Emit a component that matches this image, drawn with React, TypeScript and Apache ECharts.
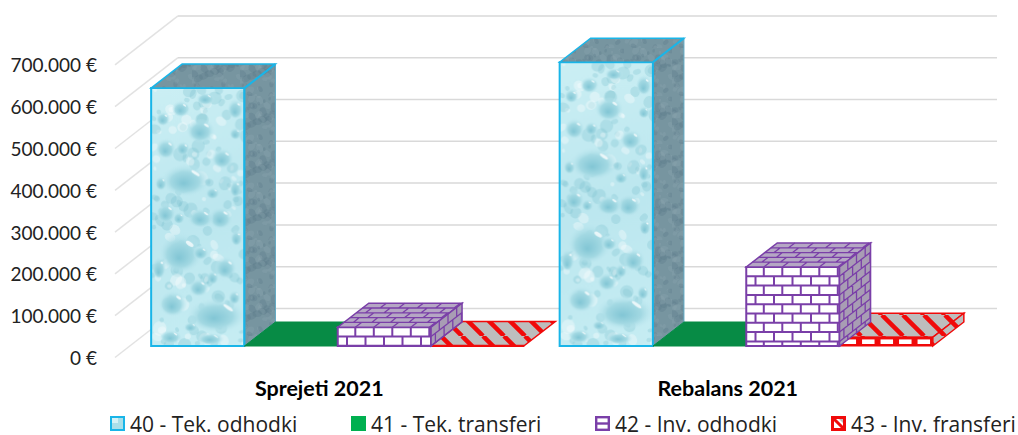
import React, { useEffect, useRef } from "react";
import * as echarts from "echarts";

const categories = ["Sprejeti 2021", "Rebalans 2021"];
const seriesNames = ["40 - Tek. odhodki", "41 - Tek. transferi", "42 - Inv. odhodki", "43 - Inv. fransferi"];
const tekOdhodki = [617000, 679000];
const tekTransferi = [0, 0];
const invOdhodki = [45000, 189000];
const invTransferi = [1000, 21000];
const tickValues = [0, 100000, 200000, 300000, 400000, 500000, 600000, 700000];
const legendLefts = [110, 351, 595, 831];

const DX = 31, DY = -24, BAR_W = 93.3, FRONT_DX = 18.5, FRONT_DY = -11.5;
const WALL_DX = 63, WALL_DY = -49, WALL_RIGHT = 997;
const CYAN = "#19b5e8", PURPLE = "#7a3fa8", RED = "#f00a0a";

type P = number[];
const mk = (w: number, h: number) => {
  const c = document.createElement("canvas");
  c.width = w; c.height = h;
  return [c, c.getContext("2d")!] as const;
};

const bigDrops = [
  [50,42,14,12],[35,92,24,16],[30,165,22,20],[66,228,29,17],[22,216,14,13],[70,130,12,11],[15,60,10,10],
  [72,70,11,10],[50,130,13,10],[75,180,11,11],[15,125,10,10],[48,200,10,9],[20,250,11,7],[60,252,13,6],[85,20,8,10],
  [30,20,9,8],[55,10,9,6],[8,180,7,11],[85,100,6,9],[50,165,8,7],[86,150,6,8],[10,95,6,7],[40,240,7,5],
  [62,105,7,6],[32,60,7,7],[85,45,6,6],[12,30,7,7],[62,190,6,7],[84,210,6,7],[28,130,6,6],
];

function waterTexture(w: number, h: number) {
  const [c, g] = mk(w, h);
  const bg = g.createLinearGradient(0, 0, w, h);
  bg.addColorStop(0, "#cbeff4"); bg.addColorStop(0.5, "#bce7ef"); bg.addColorStop(1, "#c6edf3");
  g.fillStyle = bg; g.fillRect(0, 0, w, h);
  // fine mottling across the surface
  let seed = 12345;
  const next = () => (seed = (seed * 1103 + 12347) % 65536) / 65536;
  for (let i = 0; i < 170; i++) {
    const x = next() * w, y = next() * h, r = 2 + next() * 5;
    g.fillStyle = i % 3 === 0 ? "rgba(255,255,255,0.35)" : "rgba(120,190,205,0.28)";
    g.beginPath(); g.ellipse(x, y, r, r * (0.6 + next() * 0.6), next() * 3, 0, Math.PI * 2); g.fill();
  }
  const sy = h / 258, sx = w / 94;
  for (const [x, y, rx, ry] of bigDrops) {
    const cx = x * sx, cy = y * sy;
    const gr = g.createRadialGradient(cx - rx * 0.1, cy + ry * 0.3, 0, cx, cy, rx);
    gr.addColorStop(0, "#82c6d5"); gr.addColorStop(0.6, "#a3d9e3"); gr.addColorStop(1, "rgba(190,232,240,0.1)");
    g.save(); g.translate(cx, cy); g.scale(1, ry / rx); g.translate(-cx, -cy);
    g.fillStyle = gr; g.beginPath(); g.arc(cx, cy, rx, 0, Math.PI * 2); g.fill(); g.restore();
    g.fillStyle = "rgba(255,255,255,0.75)";
    g.beginPath(); g.ellipse(cx + rx * 0.4, cy - ry * 0.45, rx * 0.2, ry * 0.1, 0.6, 0, Math.PI * 2); g.fill();
  }
  return c.toDataURL();
}

function stoneTexture() {
  const [c, g] = mk(48, 48);
  g.fillStyle = "#7795a0"; g.fillRect(0, 0, 48, 48);
  let seed = 777;
  const next = () => (seed = (seed * 1103 + 12347) % 65536) / 65536;
  for (let i = 0; i < 60; i++) {
    const x = next() * 48, y = next() * 48, r = 1.5 + next() * 3.5;
    g.fillStyle = i % 2 ? "rgba(150,175,180,0.22)" : "rgba(85,115,130,0.25)";
    g.beginPath(); g.ellipse(x, y, r, r * 0.7, next() * 3, 0, Math.PI * 2); g.fill();
  }
  return c.toDataURL();
}

function stripeTexture() {
  const [c, g] = mk(21, 21);
  g.fillStyle = "#bdbdbd"; g.fillRect(0, 0, 21, 21);
  g.strokeStyle = RED; g.lineWidth = 4.5;
  for (const k of [-21, 0, 21]) {
    g.beginPath(); g.moveTo(k, 0); g.lineTo(k + 21, 21); g.stroke();
  }
  return c.toDataURL();
}

function iconWater() {
  const [c, g] = mk(15, 15);
  g.fillStyle = "#a9dfe9"; g.fillRect(0, 0, 15, 15);
  g.fillStyle = "#d5f2f6"; g.fillRect(2, 2, 6, 5);
  g.strokeStyle = CYAN; g.lineWidth = 2; g.strokeRect(1, 1, 13, 13);
  return c.toDataURL();
}
function iconGreen() {
  const [c, g] = mk(15, 15);
  g.fillStyle = "#00b050"; g.fillRect(0, 0, 15, 15);
  return c.toDataURL();
}
function iconPurple() {
  const [c, g] = mk(15, 15);
  g.fillStyle = "#fff"; g.fillRect(0, 0, 15, 15);
  g.strokeStyle = PURPLE; g.lineWidth = 2.4; g.strokeRect(1.2, 1.2, 12.6, 12.6);
  g.beginPath(); g.moveTo(1, 7.5); g.lineTo(14, 7.5); g.stroke();
  return c.toDataURL();
}
function iconRed() {
  const [c, g] = mk(15, 15);
  g.fillStyle = "#fff"; g.fillRect(0, 0, 15, 15);
  g.fillStyle = "#bdbdbd"; g.beginPath(); g.moveTo(8, 3); g.lineTo(12, 3); g.lineTo(12, 7); g.fill();
  g.strokeStyle = RED; g.lineWidth = 3; g.strokeRect(1.5, 1.5, 12, 12);
  g.beginPath(); g.moveTo(2, 2); g.lineTo(13, 13); g.stroke();
  return c.toDataURL();
}

function brickPath(o: P, u: P, v: P, w: number, h: number, rowH: number, brickW: number) {
  const at = (a: number, b: number) => `${(o[0] + u[0] * a + v[0] * b).toFixed(1)} ${(o[1] + u[1] * a + v[1] * b).toFixed(1)}`;
  let d = "";
  for (let r = 0; r * rowH < h; r++) {
    const y0 = r * rowH, y1 = Math.min(h, (r + 1) * rowH);
    if (r > 0) d += `M${at(0, y0)}L${at(w, y0)}`;
    for (let x = r % 2 ? brickW / 2 : brickW * 0.95; x < w; x += brickW) d += `M${at(x, y0)}L${at(x, y1)}`;
  }
  return d;
}

const poly = (points: P[], style: any) => ({ type: "polygon", shape: { points }, style });
const pathEl = (d: string, stroke: string, lineWidth: number) => ({
  type: "path", shape: { pathData: d }, style: { fill: "none", stroke, lineWidth },
});
const pat = (image: string, size: number) => ({ type: "pattern", image, repeat: "repeat", imageWidth: size, imageHeight: size });

function faces(x0: number, yb: number, yt: number) {
  const x1 = x0 + BAR_W;
  return {
    front: [[x0, yb], [x1, yb], [x1, yt], [x0, yt]],
    top: [[x0, yt], [x1, yt], [x1 + DX, yt + DY], [x0 + DX, yt + DY]],
    side: [[x1, yb], [x1 + DX, yb + DY], [x1 + DX, yt + DY], [x1, yt]],
  };
}

export default function App() {
  const ref = useRef<HTMLDivElement>(null);
  useEffect(() => {
    const chart = echarts.init(ref.current!, null, { renderer: "svg" });
    const waterA = waterTexture(94, 258);
    const waterB = waterTexture(94, 284);
    const stone = pat(stoneTexture(), 48);
    const stripes = pat(stripeTexture(), 21);
    const icons = [iconWater(), iconGreen(), iconPurple(), iconRed()];

    const place = (api: any, idx: number, val: number) => {
      const p = api.coord([api.value(0), val]);
      const base = api.coord([api.value(0), 0]);
      const x0 = p[0] + FRONT_DX + (idx - 2) * BAR_W;
      return { x0, yb: base[1] + FRONT_DY, yt: p[1] + FRONT_DY };
    };

    const renderWall = (params: any, api: any) => {
      const y = api.coord([0, api.value(1)])[1];
      const left = params.coordSys.x;
      return {
        type: "group",
        children: [
          { type: "line", shape: { x1: left, y1: y, x2: left + WALL_DX, y2: y + WALL_DY }, style: { stroke: "#e2e2e2", lineWidth: 1.5 } },
          { type: "line", shape: { x1: left + WALL_DX, y1: y + WALL_DY, x2: WALL_RIGHT, y2: y + WALL_DY }, style: { stroke: "#d9d9d9", lineWidth: 1.5 } },
        ],
      };
    };

    const renderWater = (params: any, api: any) => {
      const { x0, yb, yt } = place(api, 0, api.value(1));
      const f = faces(x0, yb, yt);
      return {
        type: "group",
        children: [
          { type: "image", style: { image: params.dataIndex === 0 ? waterA : waterB, x: x0, y: yt, width: BAR_W, height: yb - yt } },
          poly(f.front, { fill: "none", stroke: CYAN, lineWidth: 2 }),
          poly(f.top, { fill: stone, stroke: CYAN, lineWidth: 1.5 }),
          poly(f.side, { fill: stone, stroke: "#5fa9c4", lineWidth: 1 }),
          { type: "line", shape: { x1: x0 + BAR_W, y1: yt, x2: x0 + BAR_W, y2: yb }, style: { stroke: CYAN, lineWidth: 2 } },
          { type: "line", shape: { x1: x0 + BAR_W, y1: yt, x2: x0 + BAR_W + DX, y2: yt + DY }, style: { stroke: CYAN, lineWidth: 2 } },
        ],
      };
    };

    const renderGreen = (_p: any, api: any) => {
      const { x0, yt } = place(api, 1, api.value(1));
      return poly(faces(x0, yt, yt).top, { fill: "#078b45", stroke: "#078b45", lineWidth: 1 });
    };

    const renderPurple = (_p: any, api: any) => {
      const { x0, yb, yt } = place(api, 2, api.value(1));
      const f = faces(x0, yb, yt);
      const H = yb - yt, L = Math.hypot(DX, DY), ux = DX / L, uy = DY / L;
      return {
        type: "group",
        children: [
          poly(f.front, { fill: "#ffffff", stroke: PURPLE, lineWidth: 2 }),
          pathEl(brickPath([x0, yt], [1, 0], [0, 1], BAR_W, H, 9.3, 18.5), PURPLE, 2),
          poly(f.top, { fill: "#b5a7c4", stroke: PURPLE, lineWidth: 1.5 }),
          pathEl(brickPath([x0, yt], [1, 0], [ux, uy], BAR_W, L, L / 5, 18.5), PURPLE, 1.3),
          poly(f.side, { fill: "#a89db4", stroke: PURPLE, lineWidth: 1.5 }),
          pathEl(brickPath([x0 + BAR_W, yt], [ux, uy], [0, 1], L, H, 9.3, 11), PURPLE, 1.3),
        ],
      };
    };

    const renderRed = (_p: any, api: any) => {
      const { x0, yb, yt } = place(api, 3, api.value(1));
      const f = faces(x0, yb, yt);
      const H = yb - yt;
      const children: any[] = [
        poly(f.top, { fill: stripes, stroke: RED, lineWidth: 1.5 }),
      ];
      if (H > 2) {
        children.push(poly(f.front, { fill: RED, stroke: RED, lineWidth: 1 }));
        for (let k = 0; k < 5; k++) {
          children.push({ type: "rect", shape: { x: x0 + 4 + k * 18.5, y: yt + H * 0.25, width: 12.5, height: H * 0.52 }, style: { fill: "#ffffff" } });
        }
        children.push(poly(f.side, { fill: stripes, stroke: RED, lineWidth: 1.5 }));
      } else {
        children.push({ type: "line", shape: { x1: x0, y1: yb, x2: x0 + BAR_W, y2: yb }, style: { stroke: RED, lineWidth: 2 } });
      }
      return { type: "group", children };
    };

    const toData = (vals: number[]) => vals.map((v, i) => [i, v]);
    const custom = (name: string, data: number[], renderItem: any, z: number) => ({
      type: "custom", name, data: toData(data), renderItem, z, encode: { x: 0, y: 1 }, silent: true,
    });

    chart.setOption({
      animation: false,
      backgroundColor: "#ffffff",
      grid: { left: 115, right: 86, top: 64.9, bottom: 77.5 },
      legend: seriesNames.map((name, i) => ({
        data: [{ name, icon: "image://" + icons[i] }],
        left: legendLefts[i], top: 413, padding: 0, itemWidth: 15, itemHeight: 15,
        selectedMode: false,
        textStyle: { fontFamily: "Open Sans", fontSize: 21, lineHeight: 16, color: "#222222" },
      })),
      xAxis: {
        type: "category", data: categories,
        axisLine: { show: false }, axisTick: { show: false },
        axisLabel: { margin: 19, fontFamily: "Lato", fontWeight: "bold", fontSize: 21.5, color: "#000000" },
      },
      yAxis: {
        type: "value", min: 0, max: 700000, interval: 100000,
        splitLine: { show: false }, axisLine: { show: false }, axisTick: { show: false },
        axisLabel: {
          margin: 18, fontFamily: "Lato", fontSize: 19, color: "#222222",
          formatter: (v: number) => (v === 0 ? "0 €" : `${v / 1000}.000 €`),
        },
      },
      series: [
        { type: "custom", name: "walls", data: tickValues.map((v) => [0, v]), renderItem: renderWall, z: 1, encode: { x: 0, y: 1 }, silent: true },
        custom(seriesNames[0], tekOdhodki, renderWater, 2),
        custom(seriesNames[1], tekTransferi, renderGreen, 3),
        custom(seriesNames[2], invOdhodki, renderPurple, 5),
        custom(seriesNames[3], invTransferi, renderRed, 4),
      ],
    });
    return () => chart.dispose();
  }, []);
  return <div ref={ref} style={{ position: "absolute", left: 0, top: 0, width: 1018, height: 435 }} />;
}
